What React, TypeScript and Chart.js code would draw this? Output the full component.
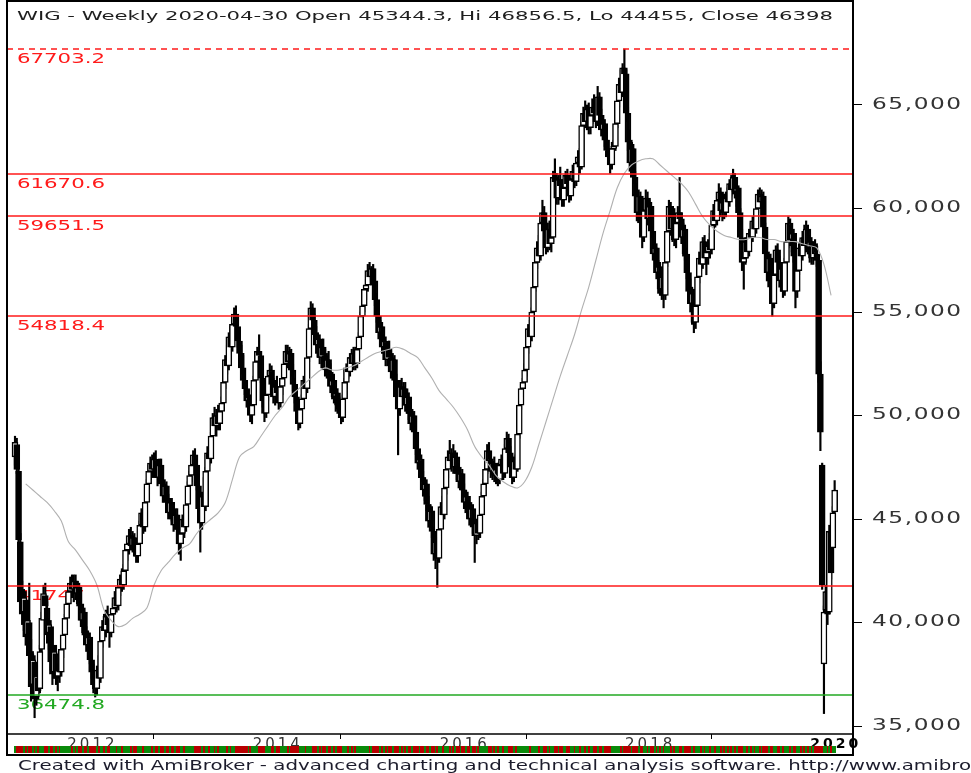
import React, { useEffect, useRef } from "react";
import { Chart, registerables } from "chart.js";

Chart.register(...registerables);

// Weekly WIG candles, in thousands of points: [open, high, low, close]
const wig2011: number[][] = [
  [48.0, 49.0, 47.6, 48.7], [48.6, 48.9, 47.2, 47.4], [47.3, 47.5, 43.6, 44.0], [43.9, 44.3, 40.6, 41.0],
  [41.1, 42.0, 39.9, 40.4], [40.5, 41.6, 39.6, 41.2], [41.1, 41.5, 38.9, 39.3], [39.4, 40.6, 38.4, 40.1],
  [40.0, 41.9, 38.0, 38.4], [38.5, 39.2, 36.2, 36.9], [37.0, 38.6, 36.5, 38.2], [38.1, 38.4, 35.4, 36.3],
  [36.4, 37.8, 36.0, 37.4], [37.3, 37.9, 36.3, 36.7], [36.8, 38.9, 36.6, 38.6], [38.7, 40.5, 38.4, 40.2],
  [40.1, 41.8, 39.8, 41.4], [41.3, 41.9, 40.4, 40.8], [40.7, 41.0, 39.0, 39.4], [39.5, 40.2, 38.7, 39.9],
  [39.8, 40.1, 37.7, 38.1], [38.2, 38.8, 37.0, 37.5], [37.6, 38.9, 37.3, 38.6], [38.5, 38.9, 37.0, 37.3],
  [37.4, 38.0, 36.7, 37.7], [37.8, 38.3, 37.1, 37.6],
];
const wig2012: number[][] = [
  [37.6, 38.9, 37.4, 38.7], [38.7, 39.6, 38.3, 39.4], [39.4, 40.4, 39.0, 40.2], [40.2, 41.2, 39.7, 40.9],
  [40.9, 41.8, 40.3, 41.5], [41.5, 42.2, 40.9, 41.9], [41.9, 42.3, 41.2, 41.6], [41.6, 42.3, 41.0, 42.0],
  [42.0, 42.3, 41.1, 41.4], [41.4, 42.0, 40.8, 41.7], [41.7, 41.9, 40.6, 40.9], [40.9, 41.2, 39.8, 40.1],
  [40.1, 40.8, 39.4, 40.5], [40.5, 40.7, 39.2, 39.5], [39.5, 39.8, 38.6, 38.9], [38.9, 39.6, 38.4, 39.3],
  [39.3, 39.5, 38.0, 38.2], [38.2, 38.6, 37.3, 37.6], [37.6, 38.0, 36.6, 37.0], [37.0, 37.6, 36.4, 36.8],
  [36.8, 37.9, 36.5, 37.7], [37.7, 38.4, 37.0, 37.3], [37.3, 39.3, 37.1, 39.1], [39.1, 40.1, 38.8, 39.8],
  [39.8, 40.4, 39.2, 39.6], [39.6, 40.6, 39.3, 40.3], [40.3, 40.8, 39.6, 39.9], [39.9, 40.2, 38.8, 39.5],
  [39.5, 40.5, 39.3, 40.4], [40.4, 40.9, 40.0, 40.7], [40.7, 41.5, 40.4, 41.2], [41.2, 41.6, 40.5, 40.8],
  [40.8, 41.9, 40.6, 41.7], [41.7, 42.3, 41.3, 42.1], [42.1, 42.6, 41.5, 41.8], [41.8, 42.8, 41.6, 42.5],
  [42.5, 43.7, 42.3, 43.5], [43.5, 44.1, 43.0, 43.8], [43.8, 44.5, 43.3, 44.2], [44.2, 44.6, 43.5, 43.7],
  [43.7, 44.4, 43.4, 44.1], [44.1, 44.3, 43.2, 43.5], [43.5, 43.8, 42.9, 43.2], [43.2, 44.0, 42.9, 43.8],
  [43.8, 44.9, 43.5, 44.7], [44.7, 45.5, 44.3, 45.3], [45.3, 45.6, 44.3, 44.6], [44.6, 46.0, 44.4, 45.8],
  [45.8, 46.9, 45.6, 46.7], [46.7, 47.6, 46.3, 47.3], [47.3, 48.0, 46.9, 47.7], [47.7, 48.1, 47.0, 47.4],
];
const wig2013: number[][] = [
  [47.4, 48.2, 47.0, 47.9], [47.9, 48.3, 47.1, 47.4], [47.4, 47.8, 46.6, 47.0], [47.0, 47.9, 46.8, 47.6],
  [47.6, 47.9, 46.5, 46.7], [46.7, 47.0, 45.8, 46.1], [46.1, 46.9, 45.8, 46.6], [46.6, 46.8, 45.6, 45.9],
  [45.9, 46.2, 45.0, 45.3], [45.3, 46.0, 45.0, 45.8], [45.8, 46.0, 44.9, 45.1], [45.1, 45.4, 44.4, 44.7],
  [44.7, 45.5, 44.5, 45.2], [45.2, 45.5, 44.2, 44.5], [44.5, 44.8, 43.3, 43.8], [43.8, 44.6, 43.0, 44.3],
  [44.3, 45.2, 44.0, 45.0], [45.0, 45.3, 44.1, 44.6], [44.6, 45.9, 44.4, 45.7], [45.7, 46.8, 45.5, 46.6],
  [46.6, 47.3, 46.2, 47.1], [47.1, 47.9, 46.8, 47.6], [47.6, 48.3, 47.2, 48.1], [48.1, 48.4, 47.3, 47.6],
  [47.6, 47.9, 46.4, 46.6], [46.6, 46.9, 45.2, 45.5], [45.5, 46.0, 43.4, 44.8], [44.8, 46.3, 44.5, 46.1],
  [46.1, 47.0, 45.2, 45.6], [45.6, 47.5, 45.4, 47.3], [47.3, 48.5, 47.1, 48.2], [48.2, 48.9, 47.6, 47.9],
  [47.9, 49.2, 47.7, 49.0], [49.0, 50.1, 48.8, 49.9], [49.9, 50.4, 49.2, 49.5], [49.5, 50.3, 49.0, 50.0],
  [50.0, 50.5, 49.3, 49.6], [49.6, 50.4, 49.3, 50.2], [50.2, 50.9, 49.8, 50.6], [50.6, 51.8, 50.4, 51.6],
  [51.6, 52.9, 51.3, 52.7], [52.7, 53.4, 52.0, 52.4], [52.4, 54.0, 52.2, 53.8], [53.8, 54.3, 53.0, 53.3],
  [53.3, 54.6, 53.1, 54.4], [54.4, 55.2, 54.0, 54.9], [54.9, 55.3, 54.0, 54.3], [54.3, 54.7, 53.3, 53.6],
  [53.6, 54.2, 52.8, 53.0], [53.0, 53.4, 52.0, 52.3], [52.3, 52.9, 51.4, 51.7], [51.7, 52.2, 51.0, 51.3],
];
const wig2014: number[][] = [
  [51.3, 51.6, 50.4, 50.7], [50.7, 51.2, 50.1, 50.9], [50.9, 51.0, 49.7, 50.0], [50.0, 50.8, 49.6, 50.5],
  [50.5, 51.9, 50.3, 51.7], [51.7, 52.8, 51.5, 52.6], [52.6, 53.3, 52.1, 53.1], [53.1, 53.9, 52.6, 52.9],
  [52.9, 53.1, 51.6, 51.8], [51.8, 52.0, 50.4, 50.7], [50.7, 51.1, 49.7, 50.1], [50.1, 51.2, 49.9, 51.0],
  [51.0, 52.1, 50.7, 51.9], [51.9, 52.5, 51.5, 52.2], [52.2, 52.4, 51.2, 51.5], [51.5, 51.8, 50.6, 50.9],
  [50.9, 51.7, 50.5, 51.4], [51.4, 51.9, 50.8, 51.1], [51.1, 51.4, 50.3, 50.6], [50.6, 51.6, 50.4, 51.4],
  [51.4, 52.0, 51.0, 51.8], [51.8, 52.7, 51.5, 52.5], [52.5, 53.4, 52.1, 53.1], [53.1, 53.4, 52.3, 52.6],
  [52.6, 53.3, 52.2, 53.0], [53.0, 53.2, 51.9, 52.2], [52.2, 52.5, 51.2, 51.5], [51.5, 51.8, 50.6, 50.9],
  [50.9, 51.2, 49.9, 50.2], [50.2, 50.6, 49.3, 49.6], [49.6, 50.5, 49.4, 50.3], [50.3, 51.0, 49.9, 50.8],
  [50.8, 51.9, 50.6, 51.7], [51.7, 52.1, 51.0, 51.3], [51.3, 53.0, 51.1, 52.8], [52.8, 54.4, 52.6, 54.2],
  [54.2, 55.5, 54.0, 55.2], [55.2, 55.4, 54.3, 54.6], [54.6, 54.9, 53.6, 53.9], [53.9, 54.3, 53.0, 53.4],
  [53.4, 54.0, 52.8, 53.7], [53.7, 53.9, 52.5, 52.8], [52.8, 53.6, 52.3, 53.3], [53.3, 53.7, 52.6, 52.9],
  [52.9, 53.2, 51.9, 52.2], [52.2, 53.0, 51.8, 52.7], [52.7, 53.1, 51.9, 52.1], [52.1, 52.5, 51.1, 51.4],
  [51.4, 52.0, 50.8, 51.7], [51.7, 52.0, 50.6, 50.9], [50.9, 51.4, 50.2, 51.1], [51.1, 51.3, 50.1, 50.5],
];
const wig2015: number[][] = [
  [50.5, 50.9, 49.9, 50.3], [50.3, 50.7, 49.6, 49.9], [49.9, 51.0, 49.7, 50.8], [50.8, 51.8, 50.5, 51.6],
  [51.6, 52.5, 51.3, 52.3], [52.3, 52.8, 51.8, 52.1], [52.1, 53.0, 51.9, 52.8], [52.8, 53.2, 52.2, 52.5],
  [52.5, 53.3, 52.2, 53.0], [53.0, 53.3, 52.2, 52.5], [52.5, 53.4, 52.3, 53.2], [53.2, 54.0, 53.0, 53.8],
  [53.8, 55.0, 53.6, 54.8], [54.8, 55.6, 54.4, 55.3], [55.3, 56.3, 55.0, 56.1], [56.1, 56.6, 55.6, 56.3],
  [56.3, 57.3, 56.0, 57.0], [57.0, 57.4, 56.4, 56.7], [56.7, 57.2, 56.3, 57.1], [57.1, 57.3, 56.2, 56.5],
  [56.5, 56.8, 55.3, 55.6], [55.6, 55.9, 54.5, 54.8], [54.8, 55.2, 53.7, 54.0], [54.0, 54.6, 53.4, 54.3],
  [54.3, 54.5, 53.0, 53.3], [53.3, 53.9, 52.7, 53.6], [53.6, 53.8, 52.4, 52.7], [52.7, 53.5, 52.4, 53.2],
  [53.2, 53.6, 52.5, 52.8], [52.8, 53.1, 51.8, 52.1], [52.1, 53.0, 51.9, 52.7], [52.7, 52.9, 51.4, 51.7],
  [51.7, 52.0, 50.6, 50.9], [50.9, 51.2, 48.1, 50.3], [50.3, 51.7, 50.0, 51.4], [51.4, 51.8, 50.6, 50.9],
  [50.9, 51.6, 50.5, 51.3], [51.3, 51.6, 50.2, 50.5], [50.5, 51.2, 50.1, 50.9], [50.9, 51.1, 49.8, 50.1],
  [50.1, 50.5, 49.3, 49.6], [49.6, 50.3, 49.3, 50.0], [50.0, 50.2, 48.9, 49.2], [49.2, 49.5, 48.1, 48.4],
  [48.4, 48.8, 47.4, 47.7], [47.7, 48.3, 47.2, 47.9], [47.9, 48.1, 46.8, 47.0], [47.0, 47.3, 46.1, 46.4],
  [46.4, 47.0, 45.9, 46.7], [46.7, 46.9, 45.4, 45.7], [45.7, 46.1, 44.6, 44.9], [44.9, 45.7, 44.6, 45.4],
  [45.4, 45.6, 44.1, 44.4],
];
const wig2016: number[][] = [
  [44.4, 44.6, 43.0, 43.3], [43.3, 44.2, 42.6, 43.9], [43.9, 44.1, 41.7, 43.1], [43.1, 44.7, 42.9, 44.5],
  [44.5, 45.8, 44.2, 45.6], [45.6, 46.1, 44.9, 45.2], [45.2, 46.7, 45.0, 46.5], [46.5, 47.6, 46.2, 47.4],
  [47.4, 48.3, 47.0, 48.0], [48.0, 48.8, 47.5, 47.8], [47.8, 48.4, 47.3, 48.2], [48.2, 48.6, 47.2, 47.5],
  [47.5, 48.3, 47.2, 48.0], [48.0, 48.2, 46.9, 47.2], [47.2, 47.7, 46.5, 46.8], [46.8, 47.5, 46.4, 47.2],
  [47.2, 47.4, 46.1, 46.4], [46.4, 46.7, 45.5, 45.8], [45.8, 46.4, 45.5, 46.1], [46.1, 46.3, 45.0, 45.3],
  [45.3, 45.8, 44.7, 45.0], [45.0, 45.8, 44.7, 45.5], [45.5, 45.7, 44.3, 44.6], [44.6, 45.0, 42.9, 44.2],
  [44.2, 45.0, 43.8, 44.8], [44.8, 45.1, 44.0, 44.3], [44.3, 45.4, 44.1, 45.2], [45.2, 46.3, 45.0, 46.1],
  [46.1, 46.9, 45.8, 46.7], [46.7, 47.6, 46.5, 47.4], [47.4, 48.6, 47.2, 48.3], [48.3, 48.7, 47.5, 47.8],
  [47.8, 48.2, 47.0, 47.3], [47.3, 47.9, 46.9, 47.7], [47.7, 48.0, 46.8, 47.1], [47.1, 47.6, 46.7, 47.4],
  [47.4, 47.7, 46.6, 46.9], [46.9, 47.8, 46.7, 47.6], [47.6, 48.1, 47.2, 47.9], [47.9, 48.0, 46.9, 47.2],
  [47.2, 48.6, 47.0, 48.4], [48.4, 49.2, 48.1, 48.9], [48.9, 49.1, 47.9, 48.2], [48.2, 48.5, 47.2, 47.5],
  [47.5, 47.8, 46.7, 47.0], [47.0, 48.0, 46.8, 47.8], [47.8, 48.1, 47.1, 47.4], [47.4, 49.3, 47.3, 49.1],
  [49.1, 50.7, 48.9, 50.5], [50.5, 51.5, 50.3, 51.3], [51.3, 51.8, 50.9, 51.6], [51.6, 52.5, 51.3, 52.2],
];
const wig2017: number[][] = [
  [52.2, 53.5, 51.9, 53.3], [53.3, 54.4, 53.0, 54.2], [54.2, 54.6, 53.4, 53.8], [53.8, 55.2, 53.6, 55.0],
  [55.0, 56.4, 54.8, 56.2], [56.2, 57.6, 56.0, 57.4], [57.4, 58.4, 57.1, 58.1], [58.1, 58.7, 57.4, 57.7],
  [57.7, 59.5, 57.5, 59.3], [59.3, 60.4, 59.0, 59.8], [59.8, 60.1, 58.6, 58.9], [58.9, 59.2, 57.8, 58.1],
  [58.1, 59.3, 57.9, 59.0], [59.0, 59.4, 58.0, 58.3], [58.3, 58.9, 57.9, 58.6], [58.6, 61.8, 58.4, 61.5],
  [61.5, 62.4, 61.0, 61.3], [61.3, 61.7, 60.2, 60.5], [60.5, 61.6, 60.2, 61.4], [61.4, 62.0, 60.8, 61.1],
  [61.1, 61.4, 60.1, 60.4], [60.4, 61.3, 60.1, 61.0], [61.0, 61.8, 60.7, 61.6], [61.6, 61.9, 60.9, 61.2],
  [61.2, 61.5, 60.3, 60.6], [60.6, 61.6, 60.4, 61.4], [61.4, 62.1, 61.1, 61.8], [61.8, 62.0, 61.0, 61.3],
  [61.3, 62.4, 61.1, 62.2], [62.2, 62.8, 61.8, 62.5], [62.5, 62.9, 61.7, 62.0], [62.0, 64.2, 61.9, 64.0],
  [64.0, 64.9, 63.7, 64.6], [64.6, 65.2, 63.9, 64.2], [64.2, 65.0, 63.8, 64.8], [64.8, 65.1, 63.6, 63.9],
  [63.9, 64.8, 63.6, 64.5], [64.5, 65.3, 64.1, 64.9], [64.9, 65.5, 64.3, 64.6], [64.6, 65.2, 63.9, 64.2],
  [64.2, 65.9, 64.0, 65.4], [65.4, 65.6, 64.2, 64.5], [64.5, 64.8, 63.5, 63.8], [63.8, 64.5, 63.4, 64.1],
  [64.1, 64.3, 63.0, 63.3], [63.3, 63.6, 62.5, 62.8], [62.8, 63.3, 62.2, 62.5], [62.5, 62.9, 61.7, 62.1],
  [62.1, 63.2, 61.9, 62.9], [62.9, 63.3, 62.4, 63.0], [63.0, 64.4, 62.8, 64.1], [64.1, 65.4, 63.9, 65.2],
];
const wig2018: number[][] = [
  [65.2, 66.3, 64.9, 66.0], [66.0, 66.7, 65.3, 65.6], [65.6, 67.0, 65.4, 66.8], [66.8, 67.7, 66.3, 66.5],
  [66.5, 66.7, 64.2, 64.6], [64.6, 64.9, 62.8, 63.2], [63.2, 63.8, 61.8, 62.2], [62.2, 63.3, 61.7, 62.9],
  [62.9, 63.1, 61.2, 61.5], [61.5, 61.8, 60.1, 60.6], [60.6, 61.2, 59.4, 59.8], [59.8, 60.9, 59.4, 60.6],
  [60.6, 60.8, 59.0, 59.3], [59.3, 60.0, 58.1, 58.6], [58.6, 60.2, 58.4, 59.9], [59.9, 60.9, 59.5, 60.5],
  [60.5, 60.8, 59.2, 59.5], [59.5, 60.4, 59.0, 60.1], [60.1, 60.3, 58.6, 58.9], [58.9, 59.1, 57.5, 57.8],
  [57.8, 58.4, 56.9, 58.1], [58.1, 58.3, 56.6, 56.9], [56.9, 57.5, 55.9, 57.2], [57.2, 57.4, 55.8, 56.1],
  [56.1, 57.0, 55.6, 56.7], [56.7, 56.9, 55.2, 55.8], [55.8, 57.6, 55.6, 57.4], [57.4, 59.1, 57.2, 58.9],
  [58.9, 60.4, 58.6, 60.1], [60.1, 60.3, 58.7, 59.0], [59.0, 59.9, 58.4, 59.6], [59.6, 60.0, 58.2, 58.5],
  [58.5, 59.6, 58.1, 59.3], [59.3, 60.1, 58.9, 59.8], [59.8, 61.5, 59.3, 59.5], [59.5, 59.8, 58.3, 58.6],
  [58.6, 59.3, 57.7, 59.0], [59.0, 59.2, 57.5, 57.8], [57.8, 58.1, 56.6, 56.9], [56.9, 57.5, 55.7, 56.0],
  [56.0, 56.6, 55.0, 55.4], [55.4, 56.2, 54.4, 55.9], [55.9, 56.1, 54.0, 54.5], [54.5, 55.6, 54.2, 55.3],
  [55.3, 56.9, 55.1, 56.7], [56.7, 57.9, 56.4, 57.6], [57.6, 58.3, 57.0, 57.3], [57.3, 58.6, 57.1, 58.4],
  [58.4, 58.7, 57.3, 57.6], [57.6, 58.2, 56.8, 57.9], [57.9, 58.5, 57.3, 58.2], [58.2, 58.8, 57.6, 58.0],
];
const wig2019: number[][] = [
  [58.0, 59.4, 57.8, 59.2], [59.2, 60.2, 58.9, 59.9], [59.9, 60.3, 59.1, 59.4], [59.4, 60.6, 59.2, 60.4],
  [60.4, 61.2, 60.0, 60.8], [60.8, 61.0, 59.6, 59.9], [59.9, 60.6, 59.4, 60.3], [60.3, 60.7, 59.5, 59.8],
  [59.8, 60.8, 59.6, 60.5], [60.5, 61.0, 60.0, 60.3], [60.3, 61.4, 60.1, 61.2], [61.2, 61.6, 60.6, 60.9],
  [60.9, 61.9, 60.7, 61.5], [61.5, 61.7, 60.5, 60.8], [60.8, 61.2, 60.1, 61.0], [61.0, 61.1, 59.5, 59.8],
  [59.8, 60.0, 58.3, 58.6], [58.6, 59.0, 57.0, 57.4], [57.4, 58.0, 56.1, 57.6], [57.6, 58.6, 57.3, 58.4],
  [58.4, 58.7, 57.6, 57.9], [57.9, 59.0, 57.7, 58.8], [58.8, 59.3, 58.3, 58.6], [58.6, 59.6, 58.4, 59.4],
  [59.4, 59.7, 58.7, 59.0], [59.0, 60.2, 58.8, 60.0], [60.0, 60.9, 59.8, 60.7], [60.7, 61.0, 60.0, 60.3],
  [60.3, 60.9, 60.0, 60.6], [60.6, 60.8, 58.8, 59.1], [59.1, 59.3, 57.4, 57.8], [57.8, 58.2, 56.5, 56.9],
  [56.9, 57.9, 56.6, 57.6], [57.6, 57.8, 55.9, 56.2], [56.2, 56.6, 54.8, 55.4], [55.4, 57.0, 55.2, 56.8],
  [56.8, 58.2, 56.6, 58.0], [58.0, 58.3, 57.1, 57.4], [57.4, 57.7, 56.2, 56.5], [56.5, 57.4, 56.0, 57.1],
  [57.1, 57.3, 55.7, 56.0], [56.0, 57.6, 55.8, 57.4], [57.4, 58.6, 57.2, 58.4], [58.4, 59.6, 58.1, 59.3],
  [59.3, 59.5, 58.2, 58.5], [58.5, 59.1, 57.9, 58.8], [58.8, 59.0, 57.4, 57.7], [57.7, 57.9, 55.2, 56.0],
  [56.0, 57.3, 55.7, 57.0], [57.0, 58.3, 56.8, 58.1], [58.1, 58.5, 57.4, 57.7], [57.7, 58.9, 57.5, 58.6],
];
const wig2020: number[][] = [
  [58.6, 59.2, 57.9, 58.2], [58.2, 59.4, 57.9, 59.0], [59.0, 59.2, 57.8, 58.1], [58.1, 58.7, 57.4, 58.4],
  [58.4, 58.6, 57.3, 57.6], [57.6, 58.4, 57.3, 58.2], [58.2, 58.5, 57.5, 57.8], [57.8, 58.3, 57.2, 57.5],
  [57.5, 57.7, 51.6, 52.0], [52.0, 52.6, 48.3, 49.2], [47.6, 47.7, 41.6, 41.8], [38.0, 40.8, 35.6, 40.5],
  [40.6, 41.8, 40.3, 41.5], [41.5, 41.7, 39.9, 40.4], [40.5, 44.7, 40.4, 44.4], [44.4, 44.8, 42.1, 42.4],
  [43.6, 45.6, 43.3, 45.3], [45.3443, 46.8565, 44.455, 46.398],
];

const maFirstWeek = 6;
const maEveryWeeks = 4;
const movingAverage = [
  46.7, 46.4, 46.1, 45.8, 45.4, 44.9, 43.9, 43.5, 43.0, 42.5, 41.8, 40.6, 40.1, 39.8, 39.9, 40.2,
  40.4, 40.7, 41.8, 42.5, 42.9, 43.3, 43.6, 43.8, 44.3, 44.7, 45.0, 45.3, 45.8, 46.9, 48.0, 48.3,
  48.5, 49.0, 49.5, 50.0, 50.4, 50.9, 51.2, 51.5, 51.8, 52.1, 52.3, 52.2, 52.2, 52.3, 52.4, 52.6,
  52.8, 53.0, 53.1, 53.2, 53.3, 53.2, 53.0, 52.8, 52.3, 51.8, 51.2, 50.8, 50.4, 49.9, 49.3, 48.5,
  48.0, 47.6, 47.1, 46.8, 46.6, 46.5, 46.8, 47.5, 48.6, 49.7, 50.8, 51.9, 52.9, 53.9, 55.1, 56.2,
  57.5, 58.8, 59.9, 61.0, 61.7, 62.1, 62.3, 62.4, 62.4, 62.1, 61.8, 61.5, 61.2, 60.8, 60.2, 59.6,
  59.2, 58.9, 58.7, 58.6, 58.5, 58.5, 58.6, 58.6, 58.5, 58.5, 58.4, 58.4, 58.4, 58.3, 58.2, 58.1,
  57.3, 55.8,
];

const levelValues = [67703.2, 61670.6, 59651.5, 54818.4, 41747, 36474.8];
const levelLabels = ["67703.2", "61670.6", "59651.5", "54818.4", "41747", "36474.8"];
const levelColors = ["#ff1a1a", "#ff1a1a", "#ff1a1a", "#ff1a1a", "#ff1a1a", "#22a822"];
const levelDashed = [true, false, false, false, false, false];

const priceTicks = [35000, 40000, 45000, 50000, 55000, 60000, 65000];
const shownYears = [2012, 2014, 2016, 2018, 2020];
const lastBarDate = [2020, 4, 30];
const titleText = "WIG - Weekly 2020-04-30 Open 45344.3, Hi 46856.5, Lo 44455, Close 46398";
const footerText =
  "Created with AmiBroker - advanced charting and technical analysis software. http://www.amibroker.com";

const FONT = '"DejaVu Sans", Verdana, sans-serif';
const X_SPACING = "3px";
const Y_STRETCH = 1.55;
const Y_LABEL_GAP = 19; // tick length + padding

export default function App() {
  const ref = useRef<HTMLCanvasElement | null>(null);

  useEffect(() => {
    const canvas = ref.current;
    if (!canvas) return;
    const bars = [
      ...wig2011, ...wig2012, ...wig2013, ...wig2014, ...wig2015,
      ...wig2016, ...wig2017, ...wig2018, ...wig2019, ...wig2020,
    ];
    const n = bars.length;
    const end = Date.UTC(lastBarDate[0], lastBarDate[1] - 1, lastBarDate[2]);
    const years = bars.map((_, i) => new Date(end - (n - 1 - i) * 7 * 86400000).getUTCFullYear());
    const yearStart: { idx: number; year: number }[] = [];
    for (let i = 1; i < n; i++) {
      if (years[i] !== years[i - 1] && shownYears.includes(years[i])) yearStart.push({ idx: i, year: years[i] });
    }
    const K = 1000;
    const up = bars.map((b) => b[3] >= b[0]);

    const overlay = {
      id: "overlay",
      beforeDraw(chart: any) {
        const ctx = chart.ctx;
        ctx.save();
        ctx.fillStyle = "#ffffff";
        ctx.fillRect(0, 0, chart.width, chart.height);
        ctx.restore();
        ctx.letterSpacing = X_SPACING;
      },
      beforeDatasetsDraw(chart: any) {
        const ctx = chart.ctx;
        ctx.letterSpacing = "0px";
        const ys = chart.scales.y;
        ctx.save();
        ctx.font = `14px ${FONT}`;
        const sx = 88 / ctx.measureText("67703.2").width;
        levelValues.forEach((v, k) => {
          const py = ys.getPixelForValue(v);
          ctx.save();
          ctx.translate(17, py + 14);
          ctx.scale(sx, 1);
          ctx.fillStyle = levelColors[k];
          ctx.textBaseline = "alphabetic";
          ctx.fillText(levelLabels[k], 0, 0);
          ctx.restore();
        });
        ctx.restore();
      },
      afterDatasetsDraw(chart: any) {
        const ctx = chart.ctx;
        const ys = chart.scales.y;
        const { left, right } = chart.chartArea;
        ctx.save();
        levelValues.forEach((v, k) => {
          const py = Math.round(ys.getPixelForValue(v));
          ctx.beginPath();
          ctx.strokeStyle = levelColors[k];
          ctx.lineWidth = 1.5;
          ctx.setLineDash(levelDashed[k] ? [6, 5] : []);
          ctx.moveTo(left, py);
          ctx.lineTo(right, py);
          ctx.stroke();
        });
        ctx.restore();
        // the price-axis labels (drawn next by Chart.js) are widened like the original
        ctx.save();
        const ax = ys.left + Y_LABEL_GAP;
        ctx.translate(ax, 0);
        ctx.scale(Y_STRETCH, 1);
        ctx.translate(-ax, 0);
        ctx.letterSpacing = "1px";
      },
      afterDraw(chart: any) {
        const ctx = chart.ctx;
        ctx.restore();
        ctx.letterSpacing = "0px";
        const xs = chart.scales.x;
        const { left, right, bottom } = chart.chartArea;
        ctx.save();
        // up / down ribbon
        for (let i = 0; i < n; i++) {
          const x0 = Math.round(xs.getPixelForValue(i - 0.5));
          const x1 = Math.round(xs.getPixelForValue(i + 0.5));
          ctx.fillStyle = up[i] ? "#0a8a0a" : "#b80000";
          ctx.fillRect(x0, 746, Math.max(1, x1 - x0), 7);
        }
        // frame
        ctx.strokeStyle = "#000";
        ctx.lineWidth = 2;
        ctx.beginPath();
        ctx.moveTo(left, 1);
        ctx.lineTo(right, 1);
        ctx.moveTo(left, 0);
        ctx.lineTo(left, 756);
        ctx.moveTo(right, 0);
        ctx.lineTo(right, 756);
        ctx.moveTo(left, 755);
        ctx.lineTo(right, 755);
        ctx.stroke();
        ctx.lineWidth = 1.5;
        ctx.beginPath();
        ctx.moveTo(left, bottom);
        ctx.lineTo(right, bottom);
        ctx.stroke();
        // title
        ctx.font = `13px ${FONT}`;
        ctx.fillStyle = "#1e1e1e";
        const tsx = 816 / ctx.measureText(titleText).width;
        ctx.save();
        ctx.translate(17, 20);
        ctx.scale(tsx, 1);
        ctx.fillText(titleText, 0, 0);
        ctx.restore();
        // footer
        ctx.font = `14px ${FONT}`;
        ctx.fillStyle = "#1c1c2c";
        const cut = footerText.indexOf("amibroker.com") + 6;
        const fsx = 953 / ctx.measureText(footerText.slice(0, cut)).width;
        ctx.save();
        ctx.translate(18, 770);
        ctx.scale(fsx, 1);
        ctx.fillText(footerText, 0, 0);
        ctx.restore();
        ctx.restore();
      },
    };

    const chart = new Chart(canvas, {
      type: "bar",
      data: {
        datasets: [
          {
            type: "line",
            data: movingAverage.map((v, k) => ({ x: maFirstWeek + k * maEveryWeeks, y: v * K })),
            borderColor: "#b0b0b0",
            borderWidth: 1.1,
            pointRadius: 0,
            tension: 0.35,
            order: 0,
          } as any,
          {
            data: bars.map((b, i) => ({ x: i, y: [b[0] * K, b[3] * K] })),
            backgroundColor: up.map((u) => (u ? "#ffffff" : "#000000")),
            borderColor: "#000000",
            borderWidth: 1.5,
            borderSkipped: false,
            barThickness: 6,
            grouped: false,
            order: 1,
          } as any,
          {
            data: bars.map((b, i) => ({ x: i, y: [b[2] * K, b[1] * K] })),
            backgroundColor: "#000000",
            borderWidth: 0,
            barThickness: 1.5,
            grouped: false,
            order: 2,
          } as any,
        ],
      },
      options: {
        animation: false,
        responsive: false,
        events: [],
        layout: { padding: { left: 7, top: 1, right: 0, bottom: 0 } },
        plugins: { legend: { display: false }, tooltip: { enabled: false }, title: { display: false } },
        scales: {
          x: {
            type: "linear",
            min: -4.49,
            max: 470.3,
            offset: false,
            afterBuildTicks: (scale: any) => {
              scale.ticks = yearStart.map((t) => ({ value: t.idx }));
            },
            afterFit: (scale: any) => {
              scale.height = 39;
              scale.paddingLeft = 0;
              scale.paddingRight = 0;
            },
            grid: { drawOnChartArea: false, drawTicks: true, tickLength: 5, color: "#000" },
            border: { display: false },
            ticks: {
              autoSkip: false,
              maxRotation: 0,
              minRotation: 0,
              align: "start",
              padding: -3,
              color: (c: any) => (yearStart[c.index] && yearStart[c.index].year === 2020 ? "#000" : "#333"),
              font: (c: any) =>
                yearStart[c.index] && yearStart[c.index].year === 2020
                  ? { family: FONT, size: 14, weight: "bold" }
                  : { family: FONT, size: 15 },
              callback: (value: any) => {
                const t = yearStart.find((s) => s.idx === value);
                return t ? "\u2009" + String(t.year) : "";
              },
            },
          } as any,
          y: {
            type: "linear",
            position: "right",
            min: 34614,
            max: 70024,
            afterBuildTicks: (scale: any) => {
              scale.ticks = priceTicks.map((v) => ({ value: v }));
            },
            afterFit: (scale: any) => {
              scale.width = 118;
              scale.paddingTop = 0;
              scale.paddingBottom = 0;
            },
            grid: { drawOnChartArea: false, drawTicks: true, tickLength: 9, color: "#000" },
            border: { display: false },
            ticks: {
              padding: Y_LABEL_GAP - 9,
              z: 1,
              color: "#333",
              font: { family: FONT, size: 15 },
              callback: (v: any) => Number(v).toLocaleString("en-US"),
            },
          } as any,
        },
      } as any,
      plugins: [overlay],
    });
    return () => chart.destroy();
  }, []);

  return (
    <div style={{ position: "fixed", left: 0, top: 0, width: 971, height: 773, background: "#fff" }}>
      <canvas ref={ref} width={971} height={773} style={{ display: "block", width: 971, height: 773 }} />
    </div>
  );
}
